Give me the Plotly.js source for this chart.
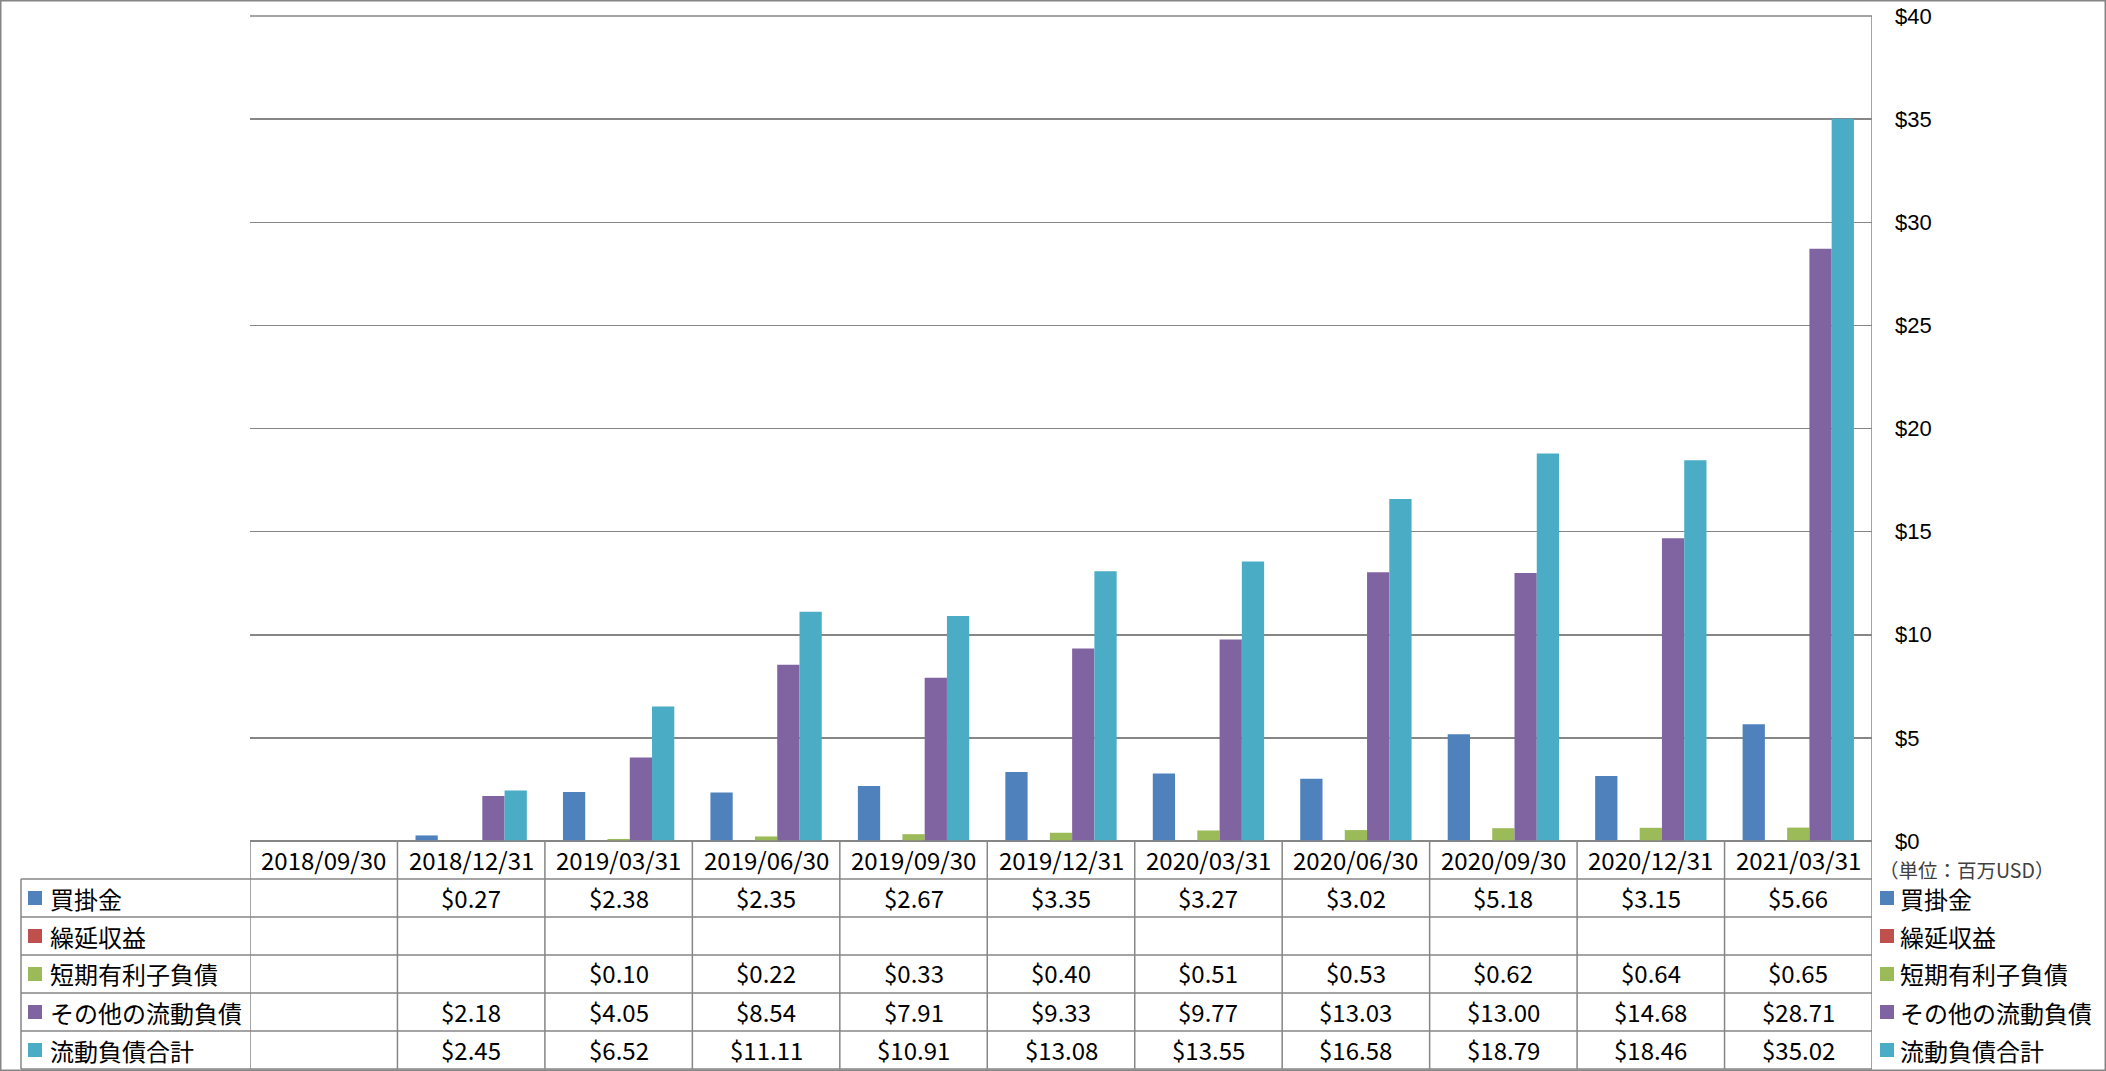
<!DOCTYPE html>
<html><head><meta charset="utf-8">
<script src="https://cdn.plot.ly/plotly-3.0.1.min.js"></script>
<style>html,body{margin:0;padding:0;background:#fff;overflow:hidden}</style>
</head><body><div id="chart" style="width:2106px;height:1071px"></div>
<script>
// ---- data ----
const categories = ['2018/09/30','2018/12/31','2019/03/31','2019/06/30','2019/09/30','2019/12/31','2020/03/31','2020/06/30','2020/09/30','2020/12/31','2021/03/31'];
const seriesNames = ['買掛金','繰延収益','短期有利子負債','その他の流動負債','流動負債合計'];
const seriesColors = ['#4F81BD','#C0504D','#9BBB59','#8064A2','#4BACC6'];
const accountsPayable = [null,0.27,2.38,2.35,2.67,3.35,3.27,3.02,5.18,3.15,5.66];
const deferredRevenue = [null,null,null,null,null,null,null,null,null,null,null];
const shortTermDebt = [null,null,0.10,0.22,0.33,0.40,0.51,0.53,0.62,0.64,0.65];
const otherCurrentLiabilities = [null,2.18,4.05,8.54,7.91,9.33,9.77,13.03,13.00,14.68,28.71];
const totalCurrentLiabilities = [null,2.45,6.52,11.11,10.91,13.08,13.55,16.58,18.79,18.46,35.02];
const yTickValues = [0,5,10,15,20,25,30,35,40];
const unitLabel = '（単位：百万USD）';
const seriesValues = [accountsPayable, deferredRevenue, shortTermDebt, otherCurrentLiabilities, totalCurrentLiabilities];

// ---- geometry (pixels) ----
const W = 2106, H = 1071;
const PL = 250, PR = 1872, PT = 16, PB = 841;
const px = x => (x - PL) / (PR - PL);
const py = y => (PB - y) / (PB - PT);
const rowTop = [841, 879, 917, 955, 993, 1031, 1069];
const FONT = '"Noto Sans CJK JP", "Noto Sans", sans-serif';
const TICKFONT = '"Liberation Sans", Arial, sans-serif';
const LINE = '#868686';

const traces = seriesNames.map((name, k) => ({
  type: 'bar', name: name, x: categories, y: seriesValues[k],
  marker: {color: seriesColors[k], line: {width: 0}},
  showlegend: false, hoverinfo: 'x+y+name'
}));

const shapes = [];
const annotations = [];
const line = (x0, y0, x1, y1) => shapes.push({type: 'line', xref: 'paper', yref: 'paper',
  x0: x0, y0: y0, x1: x1, y1: y1, line: {color: LINE, width: 1.5}});

// outer border
shapes.push({type: 'rect', xref: 'paper', yref: 'paper', x0: px(0.75), x1: px(W - 0.75), y0: py(0.75), y1: py(H - 0.75),
  line: {color: LINE, width: 1.5}, fillcolor: 'rgba(0,0,0,0)'});
// top gridline / table lines
line(px(PL), py(PT), px(PR), py(PT));
line(px(PL), py(841), px(PR), py(841));
for (let r = 1; r < rowTop.length; r++) line(px(21), py(rowTop[r]), px(PR), py(rowTop[r]));
line(px(21), py(879), px(21), py(1069));
for (let i = 0; i <= categories.length; i++) {
  const topY = (i === categories.length) ? PT : 841;
  shapes.push({type: 'line', xref: 'x', yref: 'paper', x0: i - 0.5, x1: i - 0.5, y0: py(topY), y1: py(1069),
    line: {color: LINE, width: 1.5}});
}

seriesNames.forEach((name, k) => {
  const yc = (rowTop[k + 1] + rowTop[k + 2]) / 2;
  shapes.push({type: 'rect', xref: 'paper', yref: 'paper', x0: px(28), x1: px(42), y0: py(yc - 7), y1: py(yc + 7),
    line: {width: 0}, fillcolor: seriesColors[k]});
  annotations.push({xref: 'paper', yref: 'paper', x: px(48), y: py(yc), xanchor: 'left', yanchor: 'middle',
    text: name, showarrow: false, font: {family: FONT, size: 24, color: '#000'}});
  shapes.push({type: 'rect', xref: 'paper', yref: 'paper', x0: px(1880), x1: px(1894), y0: py(yc - 7), y1: py(yc + 7),
    line: {width: 0}, fillcolor: seriesColors[k]});
  annotations.push({xref: 'paper', yref: 'paper', x: px(1898), y: py(yc), xanchor: 'left', yanchor: 'middle',
    text: name, showarrow: false, font: {family: FONT, size: 24, color: '#000'}});
  seriesValues[k].forEach((v, i) => {
    if (v === null) return;
    annotations.push({xref: 'x', yref: 'paper', x: categories[i], y: py(yc - 1), xanchor: 'center', yanchor: 'middle',
      text: '$' + v.toFixed(2), showarrow: false, font: {family: FONT, size: 24, color: '#000'}});
  });
});
categories.forEach((c) => {
  annotations.push({xref: 'x', yref: 'paper', x: c, y: py(860), xanchor: 'center', yanchor: 'middle',
    text: c, showarrow: false, font: {family: FONT, size: 24, color: '#000'}});
});
annotations.push({xref: 'paper', yref: 'paper', x: px(1877), y: py(869), xanchor: 'left', yanchor: 'middle',
  text: unitLabel, showarrow: false, font: {family: FONT, size: 19.5, color: '#404040'}});

const layout = {
  width: W, height: H,
  margin: {l: PL, r: W - PR, t: PT, b: H - PB, pad: 0},
  paper_bgcolor: '#fff', plot_bgcolor: '#fff',
  barmode: 'group', bargap: 0.245, bargroupgap: 0,
  font: {family: FONT, size: 24, color: '#000'},
  xaxis: {type: 'category', range: [-0.5, categories.length - 0.5], showgrid: false, zeroline: false,
    showline: false, ticks: '', showticklabels: false, fixedrange: true},
  yaxis: {side: 'right', range: [0, 40.0001], tickmode: 'array', tickvals: yTickValues,
    ticktext: yTickValues.map(v => '$' + v), showgrid: true, ticklabeloverflow: 'allow',
    gridcolor: LINE, gridwidth: 1.5, zeroline: true, zerolinecolor: LINE, zerolinewidth: 1.5,
    showline: false, ticks: '', ticklabelstandoff: 22, tickfont: {family: TICKFONT, size: 22, color: '#000'}, fixedrange: true},
  shapes: shapes, annotations: annotations, showlegend: false
};
Plotly.newPlot('chart', traces, layout, {staticPlot: true, displayModeBar: false});
</script></body></html>
